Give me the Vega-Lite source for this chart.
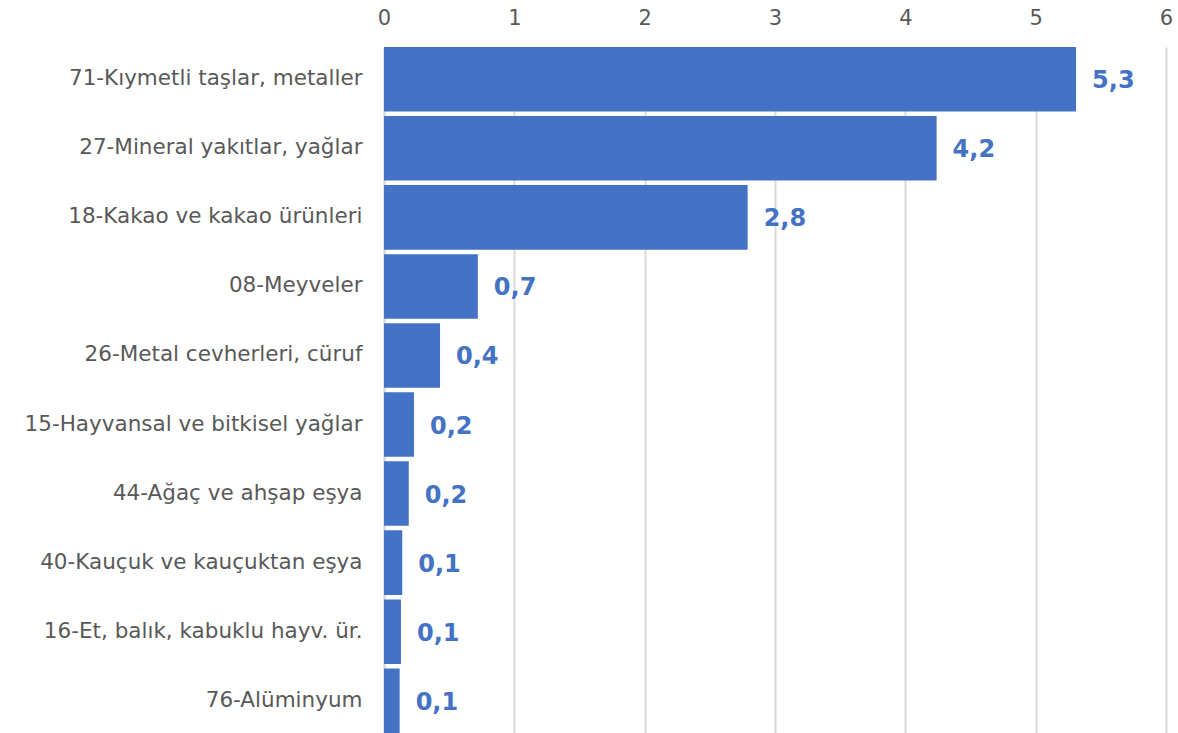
{
  "$schema": "https://vega.github.io/schema/vega-lite/v6.json",
  "autosize": "none",
  "width": 782,
  "height": 686,
  "padding": {"left": 384, "top": 47, "right": 12, "bottom": 0},
  "background": "white",
  "config": {
    "view": {"stroke": null},
    "locale": {"number": {"decimal": ",", "thousands": ".", "grouping": [3], "currency": ["", " TL"]}},
    "font": "DejaVu Sans"
  },
  "data": {
    "values": [
      {"kategori": "71-Kıymetli taşlar, metaller", "deger": 5.31},
      {"kategori": "27-Mineral yakıtlar, yağlar", "deger": 4.24},
      {"kategori": "18-Kakao ve kakao ürünleri", "deger": 2.79},
      {"kategori": "08-Meyveler", "deger": 0.72},
      {"kategori": "26-Metal cevherleri, cüruf", "deger": 0.43},
      {"kategori": "15-Hayvansal ve bitkisel yağlar", "deger": 0.23},
      {"kategori": "44-Ağaç ve ahşap eşya", "deger": 0.19},
      {"kategori": "40-Kauçuk ve kauçuktan eşya", "deger": 0.14},
      {"kategori": "16-Et, balık, kabuklu hayv. ür.", "deger": 0.13},
      {"kategori": "76-Alüminyum", "deger": 0.12}
    ]
  },
  "encoding": {
    "y": {
      "field": "kategori", "type": "nominal", "sort": null,
      "scale": {"paddingInner": 0.065, "paddingOuter": 0.0},
      "axis": {"title": null, "ticks": false, "domainColor": "#d9d9d9", "domainWidth": 2,
               "labelFontSize": 21.5, "labelColor": "#595959", "labelPadding": 22, "labelLimit": 400,
               "labelFont": "DejaVu Sans"}
    },
    "x": {
      "field": "deger", "type": "quantitative",
      "scale": {"domain": [0, 6], "nice": false},
      "axis": {"orient": "top", "title": null, "ticks": false, "domain": false,
               "values": [0, 1, 2, 3, 4, 5, 6], "labelOverlap": false,
               "gridColor": "#d9d9d9", "gridWidth": 2, "labelFontSize": 21, "labelColor": "#595959",
               "labelPadding": 19, "format": "d", "labelFlush": false}
    }
  },
  "layer": [
    {"mark": {"type": "bar", "color": "#4472C4"}},
    {"mark": {"type": "text", "align": "left", "baseline": "middle", "dx": 16, "dy": 2,
              "fontSize": 24, "fontWeight": "bold", "color": "#4472C4"},
     "encoding": {"text": {"field": "deger", "type": "quantitative", "format": ".1f"}}}
  ]
}
